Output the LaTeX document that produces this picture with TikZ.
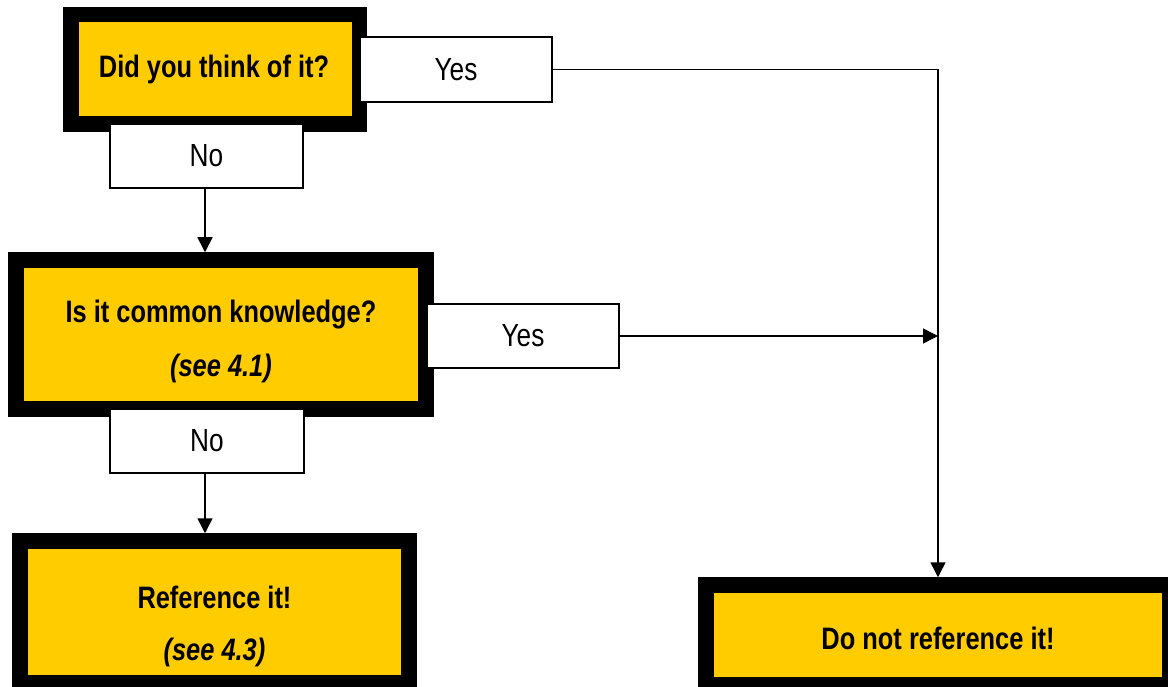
\documentclass[tikz,border=0pt]{standalone}
\usepackage{fontspec}
\setmainfont{Liberation Sans}[FakeStretch=0.82]
\usetikzlibrary{arrows.meta}
\definecolor{boxyellow}{RGB}{255,204,0}
\tikzset{
  bigbox/.style={draw=black, fill=boxyellow, line width=15.5pt, inner sep=0pt},
  answer/.style={draw=black, fill=white, line width=1.5pt, inner sep=0pt, font=\fontsize{32}{38}\selectfont},
  qtext/.style={inner sep=0pt, font=\fontsize{31}{37}\selectfont\bfseries},
  stext/.style={inner sep=0pt, font=\fontsize{31}{37}\selectfont\bfseries\itshape},
  conn/.style={line width=1.5pt, -{Triangle[length=15pt,width=15pt]}},
  plain/.style={line width=1.5pt}
}
\begin{document}
\begin{tikzpicture}[x=1pt,y=-1pt]
\useasboundingbox (0,0) rectangle (1168,687);
% big boxes
\node[bigbox, minimum width=288.5pt, minimum height=109.5pt] (B1) at (215,69.5) {};
\node[bigbox, minimum width=410pt, minimum height=149pt] (B2) at (221,334.5) {};
\node[bigbox, minimum width=389pt, minimum height=142pt] (B3) at (214.5,612) {};
\node[bigbox, minimum width=464pt, minimum height=100pt] (B4) at (938,635) {};
% texts
\node[qtext] (T1) at (214,69) {Did you think of it?};
\node[qtext] (T2a) at (221,315) {Is it common knowledge?};
\node[stext] (T2b) at (221,368) {(see 4.1)};
\node[qtext] (T3a) at (214.5,597) {Reference it!};
\node[stext] (T3b) at (214.5,652) {(see 4.3)};
\node[qtext] (T4) at (938,638) {Do not reference it!};
% answer boxes
\node[answer, minimum width=192pt, minimum height=65pt] (Y1) at (456,69.5) {Yes};
\node[answer, minimum width=193pt, minimum height=64pt] (N1) at (206.5,156) {No};
\node[answer, minimum width=192pt, minimum height=64pt] (Y2) at (523,336) {Yes};
\node[answer, minimum width=194pt, minimum height=64pt] (N2) at (207,441) {No};
% connectors
\draw[conn] ([xshift=-1.5pt]N1.south) -- ([xshift=-1.5pt]N1.south |- B2.north);
\draw[conn] ([xshift=-2pt]N2.south) -- ([xshift=-2pt]N2.south |- B3.north);
\draw[conn] (Y1.east) -| (B4.north);
\draw[conn] (Y2.east) -- (B4.north |- Y2.east);
\end{tikzpicture}
\end{document}
